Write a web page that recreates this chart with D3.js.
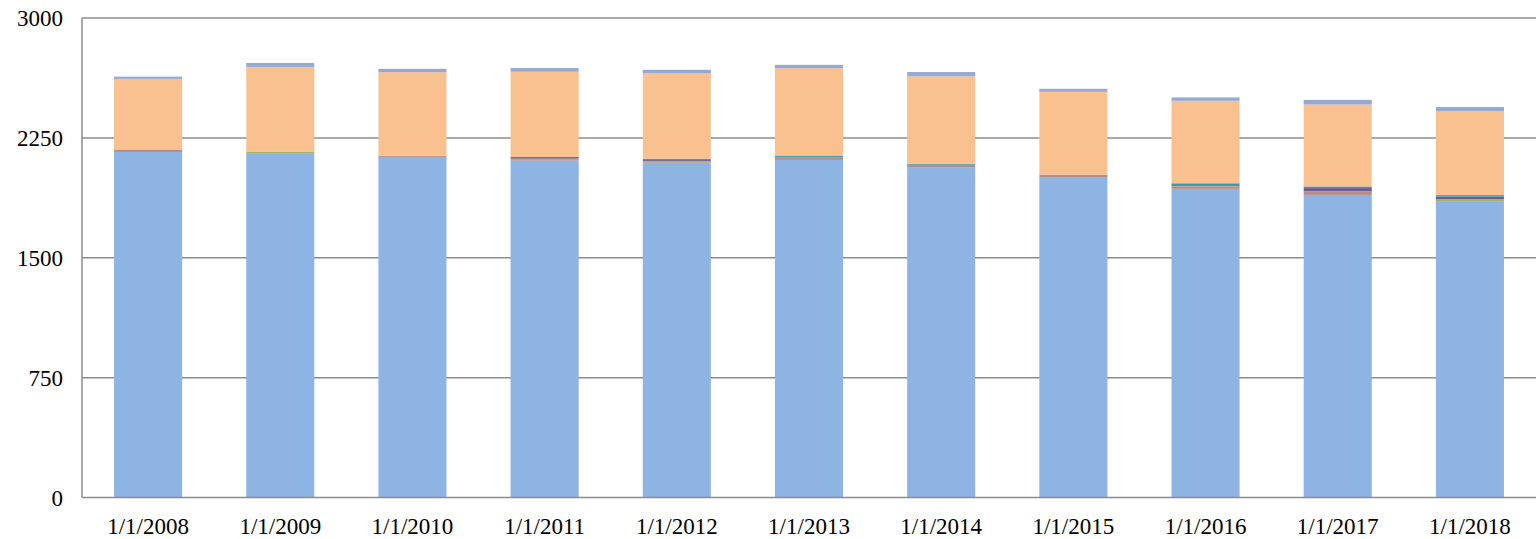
<!DOCTYPE html>
<html>
<head>
<meta charset="utf-8">
<script src="https://cdn.jsdelivr.net/npm/d3@7"></script>
<style>
  body { margin: 0; background: #fff; }
  text { font-family: "Liberation Serif", "Times New Roman", serif; fill: #000; }
</style>
</head>
<body>
<script>
// chart data
var years = ["1/1/2008", "1/1/2009", "1/1/2010", "1/1/2011", "1/1/2012", "1/1/2013",
             "1/1/2014", "1/1/2015", "1/1/2016", "1/1/2017", "1/1/2018"];
var seriesBase   = [2162, 2150, 2131, 2108, 2093, 2112, 2064, 2001, 1931, 1893, 1851];
var seriesRed    = [14, 4, 8, 4, 4, 15, 18, 19, 15, 19, 4];
var seriesGreen  = [3, 8, 0, 8, 8, 0, 0, 0, 2, 3, 12];
var seriesPurple = [0, 0, 0, 10, 6, 0, 0, 0, 6, 21, 15];
var seriesTeal   = [0, 0, 0, 0, 8, 12, 6, 0, 12, 10, 10];
var seriesPeach  = [440, 532, 522, 534, 534, 547, 547, 518, 516, 513, 526];
var seriesTop    = [14, 25, 21, 23, 23, 21, 27, 19, 21, 29, 25];
var yTicks = [0, 750, 1500, 2250, 3000];

var keys = ["base", "red", "green", "purple", "teal", "peach", "top"];
var colors = {
  base: "#8EB4E3", red: "#B48C88", green: "#A3B46A", purple: "#6E5B93",
  teal: "#3F9AAE", peach: "#F9C18F", top: "#95A9D2"
};

var table = years.map(function (yr, i) {
  return {
    year: yr, base: seriesBase[i], red: seriesRed[i], green: seriesGreen[i],
    purple: seriesPurple[i], teal: seriesTeal[i], peach: seriesPeach[i], top: seriesTop[i]
  };
});

var W = 1539, H = 539;
var plotLeft = 82, plotRight = 1536, plotTop = 18, plotBottom = 497.5;

var svg = d3.select("body").append("svg").attr("width", W).attr("height", H);

var x = d3.scaleBand().domain(years).range([plotLeft, plotRight]).paddingInner(0.485).paddingOuter(0.2425);
var y = d3.scaleLinear().domain([0, 3000]).range([plotBottom, plotTop]);

// gridlines
svg.append("g")
  .selectAll("line")
  .data(yTicks.filter(function (t) { return t > 0; }))
  .enter().append("line")
  .attr("x1", plotLeft).attr("x2", plotRight)
  .attr("y1", function (d) { return y(d); })
  .attr("y2", function (d) { return y(d); })
  .attr("stroke", "#8c8c8c")
  .attr("stroke-width", 1.5);

// stacked bars
var stack = d3.stack().keys(keys);
var layers = stack(table);

svg.append("g")
  .selectAll("g")
  .data(layers)
  .enter().append("g")
  .attr("fill", function (d) { return colors[d.key]; })
  .selectAll("rect")
  .data(function (d) { return d; })
  .enter().append("rect")
  .attr("x", function (d) { return x(d.data.year); })
  .attr("width", x.bandwidth())
  .attr("y", function (d) { return y(d[1]); })
  .attr("height", function (d) { return y(d[0]) - y(d[1]); });

// axis lines
svg.append("line")
  .attr("x1", plotLeft).attr("x2", plotLeft).attr("y1", plotTop).attr("y2", plotBottom)
  .attr("stroke", "#8c8c8c").attr("stroke-width", 1.5);
svg.append("line")
  .attr("x1", plotLeft).attr("x2", plotRight).attr("y1", plotBottom).attr("y2", plotBottom)
  .attr("stroke", "#8c8c8c").attr("stroke-width", 1.5);

// y labels
svg.append("g")
  .selectAll("text")
  .data(yTicks)
  .enter().append("text")
  .attr("x", 63)
  .attr("y", function (d) { return y(d); })
  .attr("dy", "0.35em")
  .attr("text-anchor", "end")
  .style("font-size", "23px")
  .text(function (d) { return d; });

// x labels
svg.append("g")
  .selectAll("text")
  .data(years)
  .enter().append("text")
  .attr("x", function (d) { return x(d) + x.bandwidth() / 2; })
  .attr("y", 534)
  .attr("text-anchor", "middle")
  .style("font-size", "23px")
  .text(function (d) { return d; });
</script>
</body>
</html>
